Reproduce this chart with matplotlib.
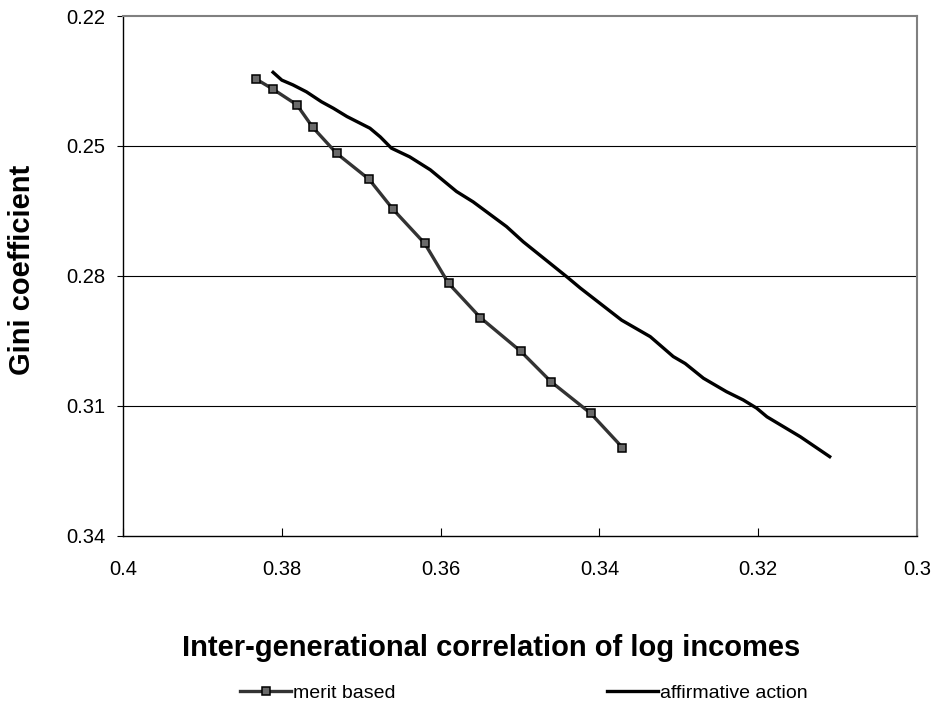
import matplotlib
matplotlib.use('Agg')
import matplotlib.pyplot as plt

plt.rcParams['font.family'] = ['Liberation Sans', 'DejaVu Sans']

# merit based (points with markers)
merit_x = [0.3832, 0.3811, 0.3781, 0.3761, 0.3731, 0.3690, 0.3660,
           0.3620, 0.3590, 0.3550, 0.3499, 0.3461, 0.3411, 0.3371]
merit_y = [0.2346, 0.2369, 0.2405, 0.2457, 0.2517, 0.2577, 0.2646,
           0.2725, 0.2817, 0.2896, 0.2974, 0.3044, 0.3117, 0.3196]

# affirmative action (traced curve)
aff_x = [0.3811, 0.3800, 0.3786, 0.3769, 0.3750, 0.3735, 0.3718, 0.3689,
         0.3676, 0.3662, 0.3639, 0.3613, 0.3580, 0.3559, 0.3517, 0.3496,
         0.3441, 0.3424, 0.3372, 0.3336, 0.3307, 0.3292, 0.3269, 0.3240,
         0.3219, 0.3202, 0.3189, 0.3147, 0.3110]
aff_y = [0.2330, 0.2348, 0.2359, 0.2375, 0.2398, 0.2413, 0.2432, 0.2459,
         0.2479, 0.2505, 0.2525, 0.2555, 0.2605, 0.2629, 0.2686, 0.2721,
         0.2802, 0.2828, 0.2902, 0.2940, 0.2986, 0.3002, 0.3036, 0.3067,
         0.3086, 0.3105, 0.3125, 0.3171, 0.3217]

x_ticks = [0.4, 0.38, 0.36, 0.34, 0.32, 0.3]
x_labels = ['0.4', '0.38', '0.36', '0.34', '0.32', '0.3']
y_ticks = [0.22, 0.25, 0.28, 0.31, 0.34]
y_labels = ['0.22', '0.25', '0.28', '0.31', '0.34']

fig = plt.figure(figsize=(9.39, 7.08), dpi=100)
ax = fig.add_axes([0.131, 0.243, 0.8456, 0.7344])

ax.plot(merit_x, merit_y, color='#333333', lw=2.4, marker='s', markersize=5.2,
        markerfacecolor='#6a6a6a', markeredgecolor='black', markeredgewidth=1.1,
        label='merit based', zorder=3)
ax.plot(aff_x, aff_y, color='black', lw=2.4, label='affirmative action', zorder=3)

ax.set_xlim(0.4, 0.3)
ax.set_ylim(0.34, 0.22)
ax.set_xticks(x_ticks)
ax.set_xticklabels(x_labels)
ax.set_yticks(y_ticks)
ax.set_yticklabels(y_labels)

for yv in y_ticks[1:-1]:
    ax.axhline(yv, color='black', lw=0.8, zorder=1)

ax.spines['top'].set_color('#808080')
ax.spines['right'].set_color('#808080')
ax.spines['top'].set_linewidth(1.5)
ax.spines['right'].set_linewidth(1.5)
ax.spines['left'].set_linewidth(1.0)
ax.spines['bottom'].set_linewidth(1.0)

ax.tick_params(axis='x', direction='in', length=6, labelsize=14.5, pad=17)
ax.tick_params(axis='y', direction='out', length=4, labelsize=14.5, pad=8.5)

# axis titles placed in figure pixels
fig.text(491 / 939, 1 - 648 / 708, 'Inter-generational correlation of log incomes',
         fontsize=21, fontweight='bold', ha='center', va='center')
fig.text(22 / 939, 1 - 270 / 708, 'Gini coefficient', rotation=90,
         fontsize=21, fontweight='bold', ha='center', va='center')

fig.legend(loc='center', bbox_to_anchor=(0.558, 1 - 693 / 708), ncol=2, frameon=False,
           fontsize=14, handlelength=2.6, handletextpad=0.1, columnspacing=10.9)

fig.savefig('out.png', dpi=100)
